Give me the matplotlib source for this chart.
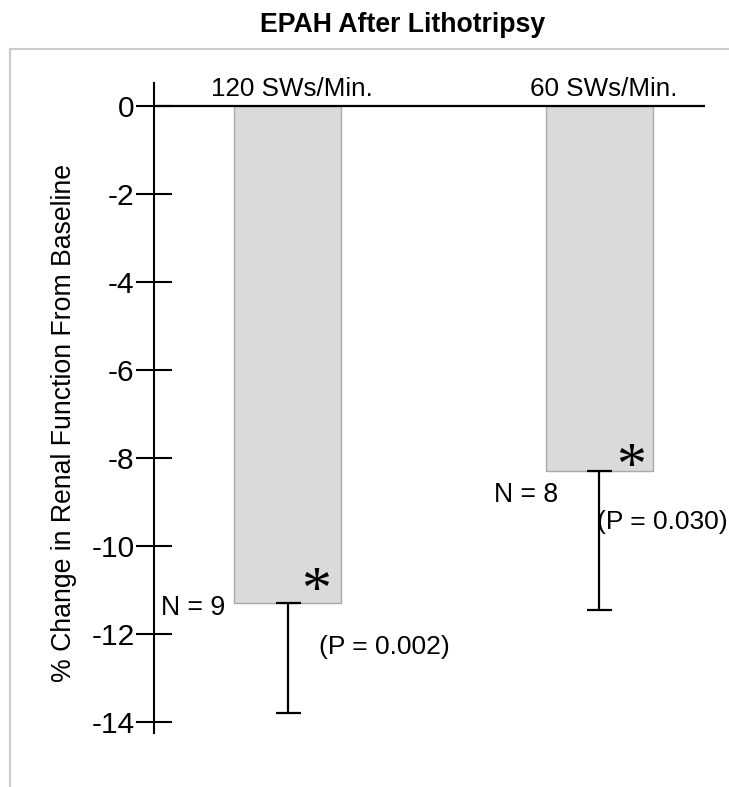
import matplotlib
matplotlib.use("Agg")
import matplotlib.pyplot as plt
from matplotlib.lines import Line2D

# ---- data ----
categories = ["120 SWs/Min.", "60 SWs/Min."]
values = [-11.3, -8.3]
err_low = [2.5, 3.15]          # downward error extent
n_labels = ["N = 9", "N = 8"]
p_labels = ["(P = 0.002)", "(P = 0.030)"]
yticks = [0, -2, -4, -6, -8, -10, -12, -14]
title = "EPAH After Lithotripsy"
ylabel = "% Change in Renal Function From Baseline"

plt.rcParams['font.family'] = ['Liberation Sans', 'DejaVu Sans']

W, H = 729, 787
fig = plt.figure(figsize=(W / 100, H / 100), dpi=100)

def fx(px):
    return px / W

def fy(py):
    return 1 - py / H

# frame lines (light gray)
fig.add_artist(Line2D([fx(10), 1.0], [fy(49), fy(49)], color="#cccccc", lw=1.5))
fig.add_artist(Line2D([fx(10), fx(10)], [fy(49), 0.0], color="#cccccc", lw=1.5))

ax = fig.add_axes([fx(154), fy(733), fx(705) - fx(154), fy(83) - fy(733)])
x = list(range(len(categories)))
bw = 0.3435
ax.bar(x, values, width=bw, color="#dadada", edgecolor="#a8a8a8", linewidth=1.0, zorder=2)
ax.errorbar(x, values, yerr=[err_low, [0, 0]], fmt="none", ecolor="black",
            elinewidth=1.6, capsize=9, capthick=1.6, zorder=3)
ax.axhline(0, color="black", lw=1.6, zorder=4)

ax.set_xlim(-0.4286, 1.340)
ax.set_ylim(-14.25, 0.52)
ax.set_xticks([])
ax.set_yticks(yticks)
ax.set_yticklabels([str(t) for t in yticks])
ax.tick_params(axis="y", direction="inout", length=26, width=1.5, pad=1,
               labelsize=21.5, colors="black")
for s in ["top", "right", "bottom"]:
    ax.spines[s].set_visible(False)
ax.spines["left"].set_linewidth(1.5)
ax.patch.set_alpha(0)

# category labels
cat_dx = [0.015, 0.016]
for i, c in enumerate(categories):
    ax.text(x[i] + cat_dx[i], 0.23, c, ha="center", va="baseline", fontsize=18.7)

# N labels
n_pos = [(-0.201, -11.56), (0.868, -8.99)]
for (nx, ny), t in zip(n_pos, n_labels):
    ax.text(nx, ny, t, ha="right", va="baseline", fontsize=19.2)

# P labels
p_pos = [(0.1, -12.3), (0.993, -9.45)]
for (px_, py_), t in zip(p_pos, p_labels):
    ax.text(px_, py_, t, ha="left", va="center", fontsize=19.0)

# asterisks
ast_pos = [(0.09, -11.06), (1.103, -8.24)]
for (ax_, ay_) in ast_pos:
    ax.text(ax_, ay_, "*", ha="center", va="center", fontsize=43,
            family=["Liberation Serif", "DejaVu Serif"])

fig.text(fx(403), fy(25), title, ha="center", va="center", fontsize=19.2, fontweight="bold")
ax.set_ylabel(ylabel, fontsize=19.2)
ax.yaxis.set_label_coords(-0.139, 0.477)

fig.savefig("out.png", dpi=100)
